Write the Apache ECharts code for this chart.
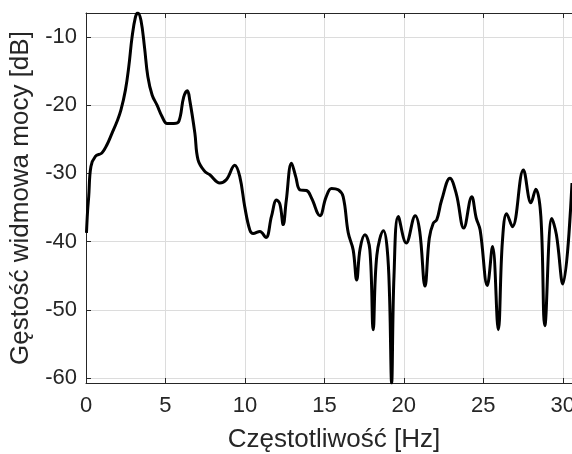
<!DOCTYPE html>
<html>
<head>
<meta charset="utf-8">
<script src="https://cdn.jsdelivr.net/npm/echarts@6/dist/echarts.min.js"></script>
<style>
  html, body { margin: 0; padding: 0; background: #fff; }
  #chart { width: 572px; height: 454px; }
</style>
</head>
<body>
<div id="chart"></div>
<script>
// frequency [Hz]
const freq = [
  0.03, 0.1, 0.17, 0.31, 0.59, 1.0, 1.32, 1.64, 1.95, 2.2,
  2.48, 2.69, 2.9, 3.11, 3.26, 3.46, 3.68, 3.89, 4.16, 4.47,
  4.79, 5.1, 5.52, 5.84, 6.15, 6.38, 6.53, 6.85, 7.05, 7.47,
  7.79, 8.42, 8.84, 9.36, 9.68, 9.99, 10.31, 10.52, 10.94, 11.32,
  11.67, 11.99, 12.2, 12.41, 12.6, 12.93, 13.2, 13.46, 13.88, 14.19,
  14.72, 15.1, 15.45, 15.87, 16.18, 16.5, 16.81, 17.03, 17.25, 17.55,
  17.86, 18.07, 18.3, 18.72, 18.95, 19.1, 19.23, 19.38, 19.65, 20.15,
  20.72, 21.0, 21.33, 21.6, 21.85, 22.07, 22.38, 22.9, 23.3, 23.77,
  24.27, 24.55, 24.8, 25.25, 25.58, 25.94, 26.2, 26.47, 26.83, 27.52,
  28.0, 28.3, 28.62, 28.87, 29.31, 29.6, 30.0, 30.58
];
// power spectral density [dB]
const psd = [
  -38.7, -35.5, -33.4, -29.0, -27.5, -27.0, -25.8, -24.1, -22.4, -20.7,
  -17.8, -14.4, -10.0, -7.1, -6.5, -7.6, -11.5, -15.8, -18.5, -20.0,
  -21.7, -22.7, -22.7, -22.4, -18.8, -17.9, -19.3, -24.1, -28.0, -29.7,
  -30.2, -31.4, -30.9, -28.8, -30.5, -34.9, -38.3, -38.8, -38.5, -39.4,
  -36.3, -33.9, -34.5, -37.5, -34.0, -28.5, -30.5, -32.4, -32.5, -33.6,
  -36.2, -33.5, -32.2, -32.4, -33.4, -38.7, -41.2, -45.6, -41.0, -39.0,
  -41.2, -52.9, -42.0, -38.4, -41.0, -48.0, -60.7, -45.0, -36.3, -40.2,
  -36.2, -38.5, -46.5, -39.5, -37.3, -36.8, -33.9, -30.7, -33.0, -38.0,
  -33.4, -36.5, -38.3, -46.4, -40.7, -52.9, -40.0, -35.9, -37.8, -29.5,
  -34.3, -32.3, -36.3, -52.3, -36.6, -39.0, -46.2, -31.4
];
const xRange = [0, 30.58];
const yRange = [-60.7, -6.5];

const txt = "#262626";
const gridCol = "#dcdcdc";
const font = "'Liberation Sans', Arial, sans-serif";

const chart = echarts.init(document.getElementById("chart"));
chart.setOption({
  animation: false,
  backgroundColor: "#fff",
  grid: {
    left: 86, right: 0, top: 13, bottom: 71,
    containLabel: false, outerBoundsMode: "none"
  },
  xAxis: [
    {
      type: "value",
      min: xRange[0],
      max: xRange[1],
      interval: 5,
      name: "Częstotliwość [Hz]",
      nameLocation: "middle",
      nameGap: 44,
      nameTextStyle: {
        color: txt, fontSize: 26, fontFamily: font, padding: [0, 0, 0, 10]
      },
      axisLine: { show: true, lineStyle: { color: txt, width: 1 } },
      axisTick: { inside: true, length: 5, lineStyle: { color: txt } },
      axisLabel: {
        color: txt, fontSize: 22, fontFamily: font, margin: 12,
        formatter: v => (Math.abs(v % 5) < 1e-6 ? String(v) : "")
      },
      splitLine: { show: true, lineStyle: { color: gridCol, width: 1 } }
    },
    {
      type: "value",
      position: "top",
      min: xRange[0],
      max: xRange[1],
      interval: 5,
      axisLine: { show: true, lineStyle: { color: txt, width: 1 } },
      axisTick: { inside: true, length: 5, lineStyle: { color: txt } },
      axisLabel: { show: false },
      splitLine: { show: false }
    }
  ],
  yAxis: {
    type: "value",
    min: yRange[0],
    max: yRange[1],
    splitNumber: 5,
    name: "Gęstość widmowa mocy [dB]",
    nameLocation: "middle",
    nameGap: 50,
    nameTextStyle: { color: txt, fontSize: 26, fontFamily: font },
    axisLine: { show: true, lineStyle: { color: txt, width: 1 } },
    axisTick: { inside: true, length: 5, lineStyle: { color: txt } },
    axisLabel: {
      color: txt, fontSize: 22, fontFamily: font, margin: 9,
      formatter: v => (Math.abs(v % 10) < 1e-6 ? String(v) : "")
    },
    splitLine: { show: true, lineStyle: { color: gridCol, width: 1 } }
  },
  series: [
    {
      type: "line",
      data: freq.map((f, i) => [f, psd[i]]),
      smooth: 0.4,
      showSymbol: false,
      clip: true,
      lineStyle: { color: "#000", width: 3 }
    }
  ]
});
</script>
</body>
</html>
